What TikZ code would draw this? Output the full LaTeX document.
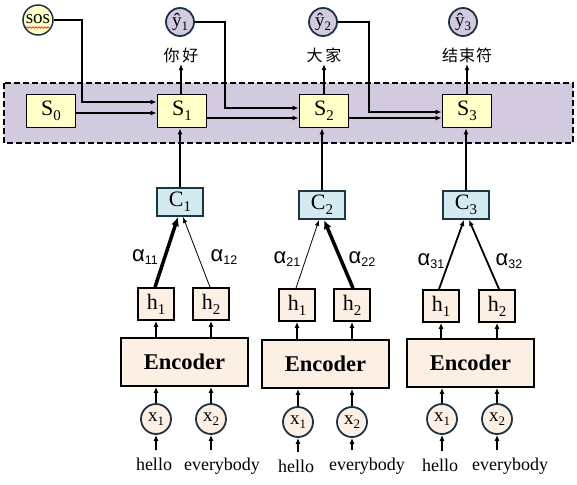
\documentclass[tikz,border=0pt]{standalone}
\usepackage{fontspec}
\usepackage{graphicx}
\setmainfont{Liberation Serif}
\newfontfamily\cjk{Noto Sans CJK SC}
\newfontfamily\alphafont{Liberation Sans}
\usetikzlibrary{arrows.meta,decorations.pathmorphing}
\definecolor{band}{HTML}{D3CADF}
\definecolor{sfill}{HTML}{FFFFC8}
\definecolor{cfill}{HTML}{D2EAF0}
\definecolor{peach}{HTML}{FCEFE4}
\definecolor{edgec}{HTML}{1C3444}
\newcommand\lowidx[1]{\raisebox{-0.22em}{\scalebox{0.68}{#1}}}
\newcommand\alab[1]{{\fontsize{22}{22}\selectfont α}\raisebox{-3.5pt}{\fontsize{12.5}{12.5}\selectfont #1}}
\tikzset{
  arr/.style={line width=1.8pt,-{Latex[length=6pt,width=5pt]}},
  thickarr/.style={line width=3.5pt,-{Latex[length=9pt,width=8pt]}},
  thinarr/.style={line width=0.8pt,-{Latex[length=6pt,width=4.5pt]}},
  sbox/.style={draw=black,line width=1.8pt,fill=sfill,minimum width=49,minimum height=33,inner sep=0,font=\fontsize{22}{22}\selectfont},
  cbox/.style={draw=edgec,line width=1.8pt,fill=cfill,minimum width=46,minimum height=28,inner sep=0,font=\fontsize{22}{22}\selectfont},
  hbox/.style={draw=black,line width=1.8pt,fill=peach,minimum width=36,minimum height=32,inner sep=0,font=\fontsize{22}{22}\selectfont},
  encbox/.style={draw=black,line width=1.8pt,fill=peach,minimum width=127,minimum height=48,inner sep=0,font=\fontsize{22.5}{22.5}\selectfont\bfseries},
  xcirc/.style={circle,draw=edgec,line width=1.8pt,fill=peach,minimum size=30,inner sep=0,font=\fontsize{19}{19}\selectfont},
  ycirc/.style={circle,draw=edgec,line width=1.8pt,fill=band,minimum size=28,inner sep=0,font=\fontsize{19}{19}\selectfont},
  word/.style={anchor=base,inner sep=0,font=\fontsize{18}{18}\selectfont},
  alabel/.style={font=\alphafont},
  clab/.style={inner sep=1.5pt,font=\cjk\fontsize{16}{16}\selectfont},
}
\begin{document}
\begin{tikzpicture}[x=1pt,y=-1pt]
\useasboundingbox (0,0) rectangle (577,484);
% band
\draw[fill=band,line width=1.8pt,dash pattern=on 6pt off 3pt] (4,83) rectangle (573,143);
% decoder states
\node[sbox] (S0) at (51,111) {S\lowidx{0}};
\node[sbox] (S1) at (182,111) {S\lowidx{1}};
\node[sbox] (S2) at (324,111) {S\lowidx{2}};
\node[sbox] (S3) at (467,111) {S\lowidx{3}};
% top circles
\node[circle,draw=edgec,line width=1.5pt,fill=sfill,minimum size=30,inner sep=0,font=\fontsize{19}{19}\selectfont] (sos) at (38,20) {\raisebox{1pt}{sos}};
\draw[red,line width=0.6pt,decorate,decoration={snake,amplitude=0.8pt,segment length=3pt}] (26,27.5) -- (51,27.5);
\node[ycirc] (Y1) at (180,22) {ŷ\lowidx{1}};
\node[ycirc] (Y2) at (323,22) {ŷ\lowidx{2}};
\node[ycirc] (Y3) at (463,22) {ŷ\lowidx{3}};
% output words
\node[clab] (L1) at (181,55) {你\kern3pt 好};
\node[clab] (L2) at (324,55) {大\kern3pt 家};
\node[clab] (L3) at (467,55) {结\kern1pt 束\kern1pt 符};
\draw[arr] (S1.north -| L1) -- (L1.south);
\draw[arr] (S2.north -| L2) -- (L2.south);
\draw[arr] (S3.north -| L3) -- (L3.south);
% decoder connections
\draw[arr] (sos.east) -| (82,102) -- ([yshift=9]S1.west);
\draw[arr] ([yshift=-2]S0.east) -- ([yshift=-2]S1.west);
\draw[arr] (Y1.east) -| (225,108) -- ([yshift=3]S2.west);
\draw[arr] ([yshift=-7]S1.east) -- ([yshift=-7]S2.west);
\draw[arr] (Y2.east) -| (369,112) -- ([yshift=-1]S3.west);
\draw[arr] ([yshift=-7]S2.east) -- ([yshift=-7]S3.west);
% context vectors
\node[cbox] (C1) at (180,202) {C\lowidx{1}};
\node[cbox] (C2) at (322,205) {C\lowidx{2}};
\node[cbox] (C3) at (466,205) {C\lowidx{3}};
\draw[arr] (C1.north) -- (C1.north |- S1.south);
\draw[arr] (C2.north) -- (C2.north |- S2.south);
\draw[arr] (C3.north) -- (C3.north |- S3.south);
% hidden states
\node[hbox] (h11) at (156,304) {h\lowidx{1}};
\node[hbox] (h12) at (211,304) {h\lowidx{2}};
\node[hbox] (h21) at (297,305) {h\lowidx{1}};
\node[hbox] (h22) at (352,305) {h\lowidx{2}};
\node[hbox] (h31) at (441,306) {h\lowidx{1}};
\node[hbox] (h32) at (497,306) {h\lowidx{2}};
% attention
\draw[thickarr] ([xshift=-1]h11.north) -- ([xshift=-2]C1.south);
\draw[thinarr] ([xshift=-1]h12.north) -- ([xshift=3]C1.south);
\draw[thinarr] ([xshift=-1]h21.north) -- ([xshift=-3]C2.south);
\draw[thickarr] ([xshift=1]h22.north) -- ([xshift=2]C2.south);
\draw[arr] ([xshift=-2]h31.north) -- ([xshift=-2]C3.south);
\draw[arr] ([xshift=2]h32.north) -- ([xshift=3]C3.south);
\node[alabel] (a11) at (145,257) {\alab{11}};
\node[alabel] (a12) at (224,257) {\alab{12}};
\node[alabel] (a21) at (287,259) {\alab{21}};
\node[alabel] (a22) at (362,259) {\alab{22}};
\node[alabel] (a31) at (431,261) {\alab{31}};
\node[alabel] (a32) at (509,261) {\alab{32}};
% encoders
\node[encbox] (E1) at (184.5,362) {Encoder};
\node[encbox] (E2) at (325.5,364) {Encoder};
\node[encbox] (E3) at (470.5,363) {Encoder};
\foreach \e/\a/\b in {E1/h11/h12,E2/h21/h22,E3/h31/h32}{
  \draw[arr] (\e.north -| \a) -- (\a.south);
  \draw[arr] (\e.north -| \b) -- (\b.south);
}
% inputs
\node[xcirc] (x11) at (156,419) {x\lowidx{1}};
\node[xcirc] (x12) at (211,419) {x\lowidx{2}};
\node[xcirc] (x21) at (298,422) {x\lowidx{1}};
\node[xcirc] (x22) at (352,422) {x\lowidx{2}};
\node[xcirc] (x31) at (442,419) {x\lowidx{1}};
\node[xcirc] (x32) at (497,419) {x\lowidx{2}};
\foreach \e/\a/\b in {E1/x11/x12,E2/x21/x22,E3/x31/x32}{
  \draw[arr] (\a.north) -- (\a.north |- \e.south);
  \draw[arr] (\b.north) -- (\b.north |- \e.south);
}
\node[word] (w11) at (154,470) {hello};
\node[word] (w12) at (222,470) {everybody};
\node[word] (w21) at (296,472) {hello};
\node[word] (w22) at (367,470) {everybody};
\node[word] (w31) at (440,471) {hello};
\node[word] (w32) at (510,470) {everybody};
\foreach \w/\c in {w11/x11,w12/x12,w21/x21,w22/x22,w31/x31,w32/x32}{
  \draw[arr,shorten <=7pt] (\w.north -| \c) -- (\c.south);
}
\end{tikzpicture}
\end{document}
